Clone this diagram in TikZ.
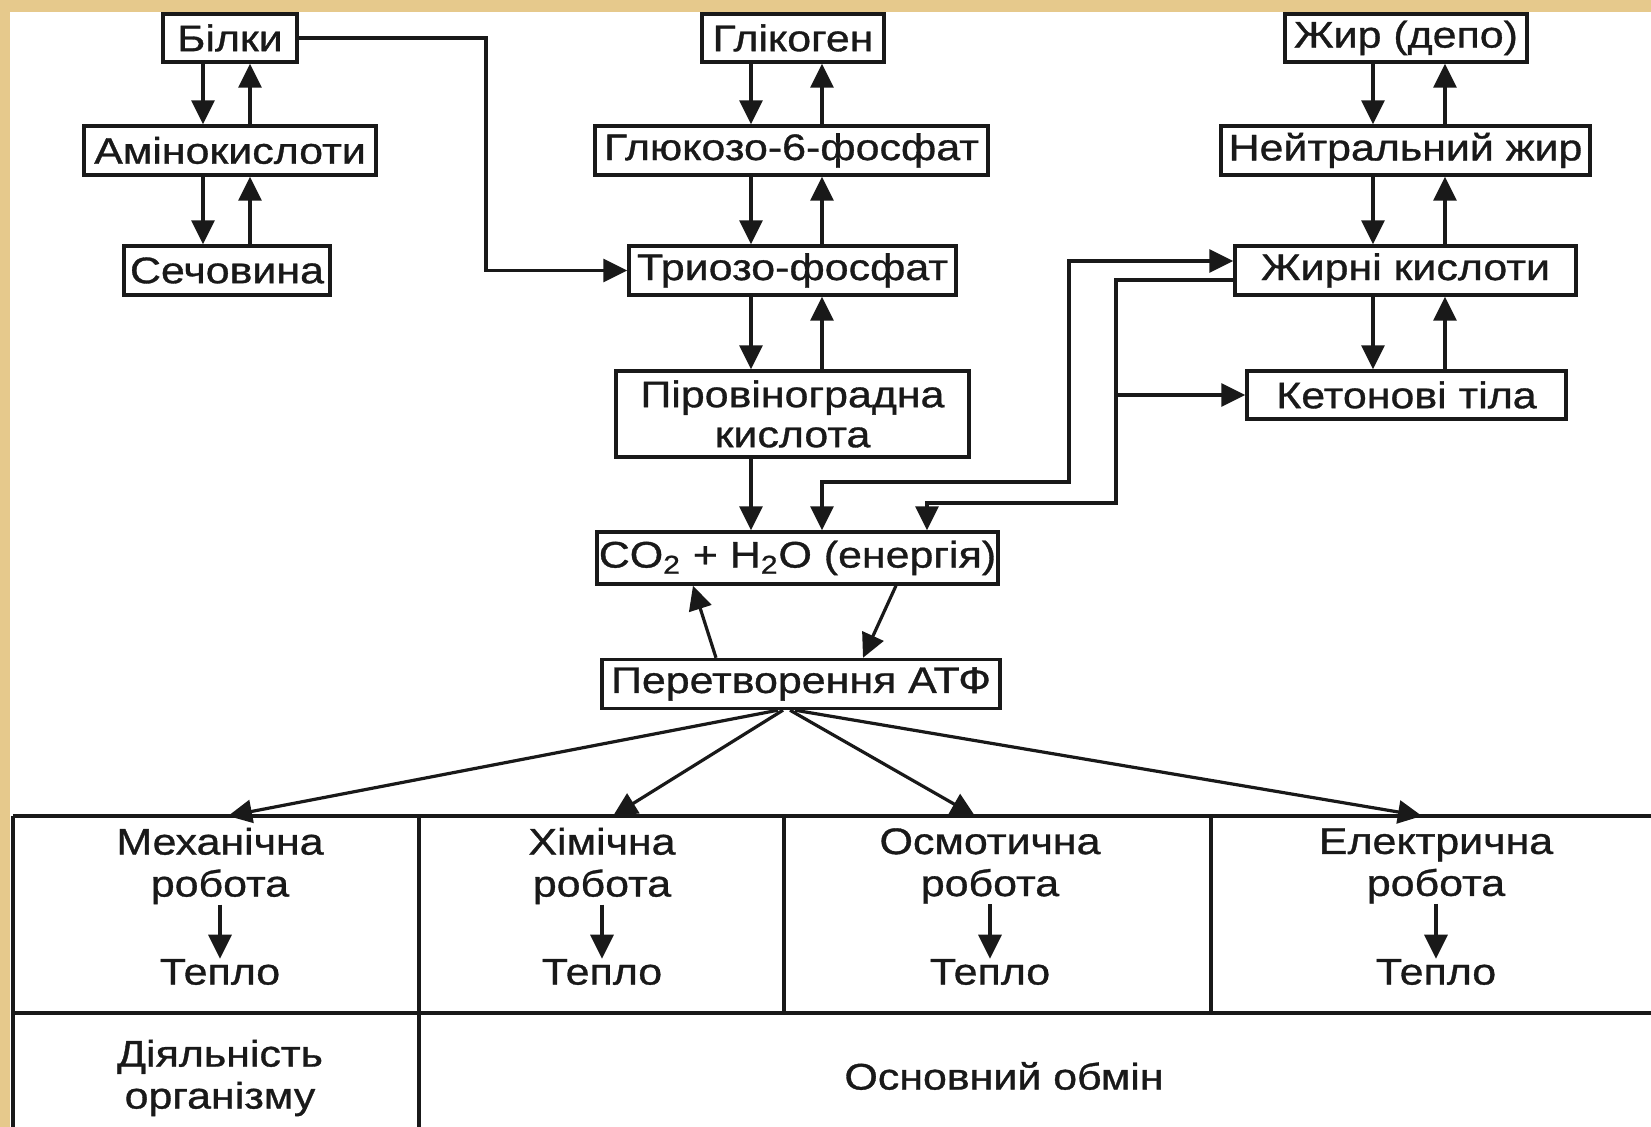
\documentclass[tikz,border=0pt]{standalone}
\usepackage{fontspec}
\setmainfont{Liberation Sans}[FakeStretch=1.16,FakeBold=0.9]
\usetikzlibrary{arrows.meta}
\definecolor{frametan}{RGB}{230,201,140}
\definecolor{ink}{RGB}{25,25,25}
\begin{document}
\begin{tikzpicture}[x=0.5pt,y=-0.5pt,
  box/.style={draw=ink, line width=1.7pt, inner sep=0pt, text=ink,
    font=\fontsize{18.5}{20}\selectfont, align=center},
  tip/.tip={Triangle[length=12pt,width=11.5pt]},
  arr/.style={draw=ink, line width=1.6pt, -tip},
  dbl/.style={draw=ink, line width=1.6pt, tip-tip},
  cell/.style={text=ink, font=\fontsize{18.5}{21}\selectfont, align=center, inner sep=0pt},
  gridline/.style={draw=ink, line width=1.7pt}]
% background and frame
\fill[frametan] (0,0) rectangle (1651,1127);
\fill[white] (10,12) rectangle (1651,1127);
\useasboundingbox (0,0) rectangle (1651,1127);

% boxes
\node[box, minimum width=67pt, minimum height=24pt] (bilky) at (230,38) {Білки};
\node[box, minimum width=146pt, minimum height=24.5pt] (amino) at (230,150.5) {Амінокислоти};
\node[box, minimum width=103pt, minimum height=24.5pt] (sech) at (227,270.5) {Сечовина};

\node[box, minimum width=91pt, minimum height=24pt] (glik) at (793,38) {Глікоген};
\node[box, minimum width=196.5pt, minimum height=24.5pt] (g6f) at (791.5,150.5) {Глюкозо-6-фосфат};
\node[box, minimum width=163.5pt, minimum height=24.5pt] (trio) at (792.5,270.5) {Триозо-фосфат};
\node[box, minimum width=176.5pt, minimum height=43pt] (pir) at (792.5,414) {Піровіноградна\\кислота};
\node[box, minimum width=200.5pt, minimum height=26pt] (co2) at (797.5,558) {CO\textsubscript{2} + H\textsubscript{2}O (енергія)};
\node[box, minimum width=199pt, minimum height=24.5pt] (atf) at (801,684) {Перетворення АТФ};

\node[box, minimum width=121pt, minimum height=24pt] (zhyr) at (1406,38) {Жир (депо)};
\node[box, minimum width=184.5pt, minimum height=24.5pt] (neut) at (1405.5,150.5) {Нейтральний жир};
\node[box, minimum width=170.5pt, minimum height=24.5pt] (zhk) at (1405.5,270.5) {Жирні кислоти};
\node[box, minimum width=159.5pt, minimum height=24pt] (ket) at (1406.5,395) {Кетонові тіла};

% helper coordinates (x positions of the vertical arrows)
\coordinate (xA1) at (203,0);  \coordinate (xA2) at (250,0);
\coordinate (xB1) at (751,0);  \coordinate (xB2) at (822,0);  \coordinate (xB3) at (927,0);
\coordinate (xC1) at (1373,0); \coordinate (xC2) at (1445,0);
\coordinate (xI) at (1116,0);
\coordinate (yT) at (0,261);   \coordinate (yU) at (0,280);
\coordinate (oc) at (1069,482); \coordinate (ic) at (1116,503);
\coordinate (bq) at (486,150);

% left column
\draw[arr] (bilky.south -| xA1) -- (amino.north -| xA1);
\draw[arr] (amino.north -| xA2) -- (bilky.south -| xA2);
\draw[arr] (amino.south -| xA1) -- (sech.north -| xA1);
\draw[arr] (sech.north -| xA2) -- (amino.south -| xA2);
\draw[arr] (bilky.east) -| (bq) |- (trio.west);

% middle column
\draw[arr] (glik.south -| xB1) -- (g6f.north -| xB1);
\draw[arr] (g6f.north -| xB2) -- (glik.south -| xB2);
\draw[arr] (g6f.south -| xB1) -- (trio.north -| xB1);
\draw[arr] (trio.north -| xB2) -- (g6f.south -| xB2);
\draw[arr] (trio.south -| xB1) -- (pir.north -| xB1);
\draw[arr] (pir.north -| xB2) -- (trio.south -| xB2);
\draw[arr] (pir.south -| xB1) -- (co2.north -| xB1);

% right column
\draw[arr] (zhyr.south -| xC1) -- (neut.north -| xC1);
\draw[arr] (neut.north -| xC2) -- (zhyr.south -| xC2);
\draw[arr] (neut.south -| xC1) -- (zhk.north -| xC1);
\draw[arr] (zhk.north -| xC2) -- (neut.south -| xC2);
\draw[arr] (zhk.south -| xC1) -- (ket.north -| xC1);
\draw[arr] (ket.north -| xC2) -- (zhk.south -| xC2);

% links between fat column and CO2
\draw[dbl] (co2.north -| xB2) |- (oc) |- (zhk.west |- yT);
\draw[arr] (zhk.west |- yU) -| (ic) -| (co2.north -| xB3);
\draw[arr] (ket.west -| xI) -- (ket.west);

% CO2 <-> ATF
\coordinate (u1) at (716,0); \coordinate (u2) at (693,0);
\coordinate (d1) at (896,0); \coordinate (d2) at (863,0);
\draw[arr] (atf.north -| u1) -- (co2.south -| u2);
\draw[arr] (co2.south -| d1) -- (atf.north -| d2);

% table
\draw[gridline] (13,816) -- (1651,816);
\draw[gridline] (13,1013) -- (1651,1013);
\draw[gridline] (13,816) -- (13,1127);
\draw[gridline] (419,816) -- (419,1127);
\draw[gridline] (784,816) -- (784,1013);
\draw[gridline] (1211,816) -- (1211,1013);

% fan from ATF
\coordinate (f1) at (778,0); \coordinate (f2) at (783,0);
\coordinate (f3) at (790,0); \coordinate (f4) at (795,0);
\coordinate (t1) at (228,816); \coordinate (t2) at (613,816);
\coordinate (t3) at (975,816); \coordinate (t4) at (1422,816);
\draw[arr] (atf.south -| f1) -- (t1);
\draw[arr] (atf.south -| f2) -- (t2);
\draw[arr] (atf.south -| f3) -- (t3);
\draw[arr] (atf.south -| f4) -- (t4);

% cells
\node[cell] (w1) at (220,866) {Механічна\\робота};
\node[cell] (h1) at (220,972) {Тепло};
\node[cell] (w2) at (602,866) {Хімічна\\робота};
\node[cell] (h2) at (602,972) {Тепло};
\node[cell] (w3) at (990,866) {Осмотична\\робота};
\node[cell] (h3) at (990,972) {Тепло};
\node[cell] (w4) at (1436,866) {Електрична\\робота};
\node[cell] (h4) at (1436,972) {Тепло};
\draw[arr] (w1.south) -- (h1.north);
\draw[arr] (w2.south) -- (h2.north);
\draw[arr] (w3.south) -- (h3.north);
\draw[arr] (w4.south) -- (h4.north);

\node[cell] (act) at (220,1078) {Діяльність\\організму};
\node[cell] (bas) at (1004,1076) {Основний обмін};
\end{tikzpicture}
\end{document}
